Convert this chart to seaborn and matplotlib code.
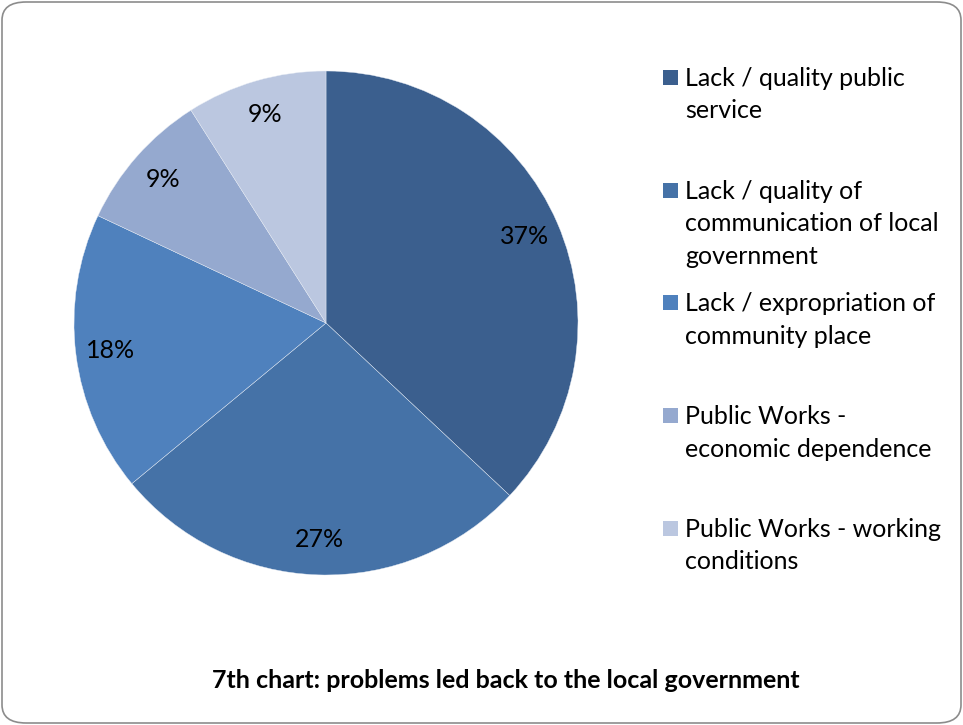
import matplotlib
matplotlib.use("Agg")
import matplotlib.pyplot as plt
import seaborn as sns
from matplotlib.patches import Rectangle, FancyBboxPatch

categories = [
    "Lack / quality public\nservice",
    "Lack / quality of\ncommunication of local\ngovernment",
    "Lack / expropriation of\ncommunity place",
    "Public Works -\neconomic dependence",
    "Public Works - working\nconditions",
]
shares = [37, 27, 18, 9, 9]
colors = ["#3B5F8E", "#4572A7", "#4F81BD", "#95A9CF", "#BBC7E0"]
title = "7th chart: problems led back to the local government"

sns.set_theme(style="white")
plt.rcParams["font.family"] = ["Lato", "DejaVu Sans"]

W, H = 963, 725
fig = plt.figure(figsize=(W / 100, H / 100), dpi=100)
fig.patch.set_facecolor("white")

# rounded frame
frame = FancyBboxPatch((2 / W, 2 / H), (W - 4) / W, (H - 4) / H,
                       boxstyle="round,pad=0,rounding_size=0.025",
                       transform=fig.transFigure, facecolor="none",
                       edgecolor="#8C8C8C", linewidth=1.2, zorder=-5)
fig.patches.append(frame)

cx, cy, r = 326, 323, 252
ax = fig.add_axes([(cx - r) / W, (H - cy - r) / H, 2 * r / W, 2 * r / H])
ax.set_facecolor("none")
ax.set_zorder(2)
wedges, texts, autotexts = ax.pie(
    shares, colors=colors, startangle=90, counterclock=False,
    autopct=lambda p: f"{p:.0f}%", pctdistance=0.86,
    wedgeprops=dict(linewidth=0.3, edgecolor="#E8EDF5"),
    textprops=dict(fontsize=18, color="black"))
ax.set_xlim(-1, 1)
ax.set_ylim(-1, 1)
ax.set_aspect("equal")
ax.axis("off")

# legend (manual, evenly spaced entries)
top0 = 77
step = 112.7
for i, (lab, col) in enumerate(zip(categories, colors)):
    yc = top0 + i * step
    fig.patches.append(Rectangle((663 / W, 1 - (yc + 8) / H), 15 / W, 15 / H,
                                 transform=fig.transFigure, facecolor=col,
                                 edgecolor="none"))
    fig.text(685 / W, 1 - (yc - 10) / H, lab, ha="left", va="top",
             fontsize=18, color="black", linespacing=1.5)

fig.text(506 / W, 1 - 680 / H, title, ha="center", va="center",
         fontsize=18, fontweight="bold", color="black")

fig.savefig("out.png", dpi=100, facecolor="white")
